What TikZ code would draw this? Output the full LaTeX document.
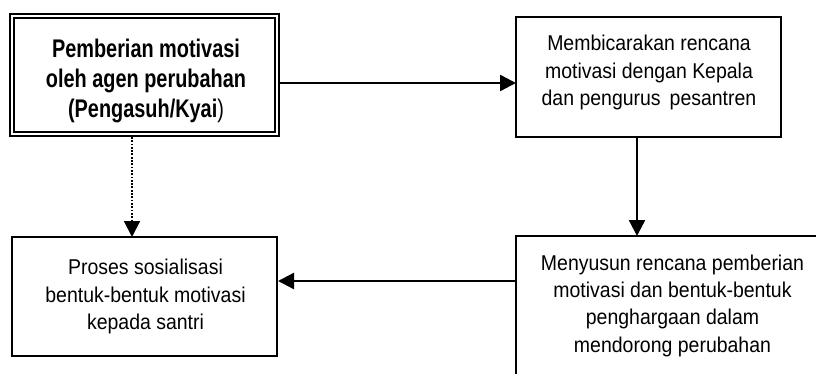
\documentclass[tikz,border=0pt]{standalone}
\usepackage{fontspec}
\setmainfont{Liberation Sans}[FakeStretch=0.91]
\newfontfamily\narrowf{Liberation Sans}[FakeStretch=0.78]
\usetikzlibrary{arrows.meta}
\tikzset{
  box/.style={draw=black, line width=1.8pt, inner sep=0pt, outer sep=0pt, fill=white},
  dbox/.style={draw=black, line width=2pt, double=white, double distance=1.7pt, inner sep=0pt, outer sep=0pt},
  txt/.style={anchor=north, align=center, inner sep=0pt, font=\fontsize{21.4}{27.3}\selectfont},
  btxt/.style={anchor=north, align=center, inner sep=0pt, font=\narrowf\fontsize{25.5}{30.3}\selectfont\bfseries},
  arr/.style={line width=2.4pt, -{Triangle[length=16pt,width=16pt]}},
  darr/.style={line width=2pt, dash pattern=on 1.8pt off 1.5pt, -{Triangle[length=16pt,width=16pt]}}
}
\begin{document}
\begin{tikzpicture}[x=1pt,y=-1pt]
\useasboundingbox (0,0) rectangle (816,374);
\clip (0,0) rectangle (816,374);
\node[dbox, minimum width=265pt, minimum height=118pt] (b1) at (144.5,75) {};
\node[box, minimum width=265pt, minimum height=120pt] (b2) at (648.5,77) {};
\node[box, minimum width=265pt, minimum height=119pt] (b3) at (144.5,296.5) {};
\node[box, minimum width=313pt, minimum height=164pt] (b4) at (672.5,318) {};
\node[btxt] (t1) at (146,38.5) {Pemberian motivasi\\oleh agen perubahan\\(Pengasuh/Kyai{\mdseries)}};
\node[txt] (t2) at (649,35) {Membicarakan rencana\\motivasi dengan Kepala\\dan pengurus\, pesantren};
\node[txt] (t3) at (145.5,259) {Proses sosialisasi\\bentuk-bentuk motivasi\\kepada santri};
\node[txt] (t4) at (672.5,254.5) {Menyusun rencana pemberian\\motivasi dan bentuk-bentuk\\penghargaan dalam\\mendorong perubahan};
\coordinate (a1) at ([yshift=-8pt]b1.east);
\draw[arr] ([xshift=3pt]a1) -- (b2.west |- a1);
\coordinate (a2) at ([xshift=-11.5pt]b2.south);
\draw[arr] (a2) -- (a2 |- b4.north);
\coordinate (a3) at ([yshift=15.5pt]b3.east);
\draw[arr] (b4.west |- a3) -- ([xshift=1pt]a3);
\coordinate (a4) at ([xshift=-12.5pt]b1.south);
\draw[darr] ([yshift=-3pt]a4) -- (a4 |- b3.north);
\end{tikzpicture}
\end{document}
